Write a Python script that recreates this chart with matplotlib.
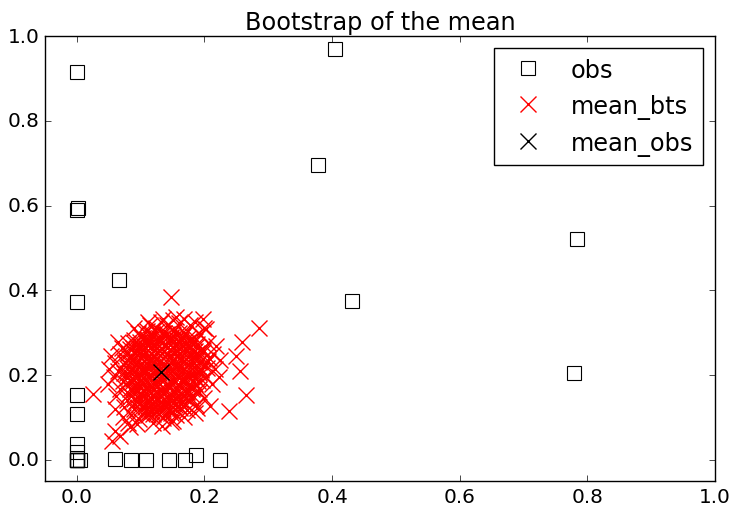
import numpy as np
import matplotlib
matplotlib.use("Agg")
import matplotlib.pyplot as plt

# observed sample (several points sit on top of each other at the origin)
obs_x = [0.0, 0.405, 0.378, 0.784, 0.780, 0.431, 0.002, 0.0, 0.0, 0.066,
         0.0, 0.0, 0.0, 0.0, 0.0, 0.005, 0.060, 0.085, 0.109, 0.144,
         0.170, 0.186, 0.225, 0.0, 0.0, 0.0, 0.0, 0.0, 0.0]
obs_y = [0.915, 0.970, 0.696, 0.521, 0.205, 0.375, 0.594, 0.590, 0.373, 0.425,
         0.153, 0.108, 0.038, 0.019, 0.0, 0.0, 0.003, 0.0, 0.0, 0.0,
         0.0, 0.012, 0.0, 0.0, 0.0, 0.0, 0.0, 0.0, 0.0]

# bootstrap means (dense core first, then the fringe)
bts_x = [
    0.106, 0.115, 0.124, 0.133, 0.142, 0.151, 0.160, 0.169,
    0.101, 0.110, 0.120, 0.129, 0.138, 0.147, 0.156, 0.165, 0.174, 0.183,
    0.090, 0.099, 0.108, 0.117, 0.126, 0.135, 0.144, 0.153, 0.162, 0.171, 0.180, 0.189,
    0.088, 0.097, 0.106, 0.115, 0.124, 0.133, 0.142, 0.151, 0.160, 0.169, 0.178, 0.187, 0.196,
    0.080, 0.089, 0.098, 0.107, 0.116, 0.125, 0.134, 0.143, 0.152, 0.161, 0.170, 0.179, 0.188, 0.197,
    0.081, 0.090, 0.099, 0.108, 0.117, 0.126, 0.135, 0.144, 0.153, 0.162, 0.171, 0.180, 0.189, 0.198, 0.207,
    0.075, 0.084, 0.093, 0.102, 0.111, 0.120, 0.129, 0.138, 0.147, 0.156, 0.165, 0.174, 0.183, 0.192, 0.201,
    0.078, 0.087, 0.096, 0.105, 0.114, 0.123, 0.132, 0.141, 0.150, 0.159, 0.168, 0.177, 0.186, 0.195, 0.204,
    0.074, 0.083, 0.092, 0.101, 0.110, 0.119, 0.128, 0.137, 0.146, 0.155, 0.164, 0.173, 0.182, 0.191,
    0.079, 0.088, 0.097, 0.106, 0.115, 0.124, 0.133, 0.142, 0.151, 0.160, 0.169, 0.178, 0.187, 0.196,
    0.077, 0.086, 0.095, 0.104, 0.113, 0.122, 0.131, 0.140, 0.149, 0.158, 0.167, 0.176, 0.185,
    0.083, 0.092, 0.101, 0.110, 0.119, 0.128, 0.137, 0.146, 0.155, 0.164, 0.173, 0.182, 0.191,
    0.082, 0.091, 0.100, 0.109, 0.118, 0.127, 0.136, 0.145, 0.154, 0.163, 0.172, 0.181,
    0.090, 0.099, 0.108, 0.117, 0.126, 0.135, 0.144, 0.153, 0.162, 0.171, 0.180,
    0.090, 0.099, 0.108, 0.117, 0.126, 0.135, 0.144, 0.153, 0.162, 0.170,
    0.099, 0.108, 0.117, 0.126, 0.135, 0.144, 0.153, 0.162,
    0.102, 0.111, 0.120, 0.129, 0.138, 0.147,
    # second, shifted pass over the middle of the cloud
    0.112, 0.128, 0.146, 0.161, 0.176, 0.104, 0.121, 0.137, 0.153, 0.169,
    0.185, 0.096, 0.113, 0.130, 0.149, 0.165, 0.181, 0.092, 0.108, 0.125,
    0.141, 0.158, 0.174, 0.190, 0.097, 0.116, 0.133, 0.150, 0.167, 0.183,
    0.103, 0.119, 0.136, 0.154, 0.171, 0.110, 0.127, 0.143, 0.160, 0.118,
    0.134, 0.151,
    # fringe
    0.085, 0.088, 0.079, 0.096, 0.102, 0.093, 0.120, 0.134, 0.150, 0.166,
    0.180, 0.190, 0.195, 0.188, 0.176, 0.163, 0.147, 0.130, 0.113, 0.099,
    0.084, 0.075, 0.072, 0.081, 0.106, 0.126, 0.145, 0.160, 0.176, 0.192,
    0.202, 0.205, 0.198, 0.185, 0.170, 0.152, 0.136, 0.118, 0.104, 0.090,
    0.067, 0.064, 0.068, 0.078, 0.090, 0.112, 0.135, 0.155, 0.172, 0.187,
    0.200, 0.212, 0.216, 0.213, 0.206, 0.193, 0.178, 0.160, 0.142, 0.124,
    0.110,
    0.058, 0.060, 0.062, 0.074, 0.085, 0.098, 0.120, 0.148, 0.168, 0.185,
    0.222, 0.225, 0.218, 0.200, 0.185, 0.168, 0.150, 0.132, 0.115, 0.095,
    0.080, 0.070,
    0.065, 0.090, 0.112, 0.135, 0.155, 0.050, 0.048, 0.053, 0.072, 0.060,
    0.080,
    # outliers
    0.286, 0.148, 0.259, 0.265, 0.239, 0.209, 0.188, 0.255, 0.250, 0.025,
    0.055, 0.067, 0.059, 0.083, 0.094, 0.134, 0.150, 0.197, 0.203,
]
bts_y = [
    0.301, 0.298, 0.302, 0.299, 0.297, 0.303, 0.300, 0.296,
    0.289, 0.286, 0.290, 0.287, 0.291, 0.288, 0.285, 0.289, 0.287, 0.290,
    0.276, 0.279, 0.275, 0.277, 0.274, 0.278, 0.276, 0.273, 0.277, 0.275, 0.278, 0.274,
    0.264, 0.262, 0.266, 0.263, 0.265, 0.261, 0.264, 0.267, 0.262, 0.265, 0.263, 0.266, 0.262,
    0.252, 0.255, 0.251, 0.253, 0.250, 0.254, 0.252, 0.249, 0.253, 0.251, 0.255, 0.250, 0.252, 0.254,
    0.240, 0.238, 0.242, 0.239, 0.241, 0.237, 0.240, 0.243, 0.238, 0.241, 0.239, 0.242, 0.240, 0.237, 0.241,
    0.228, 0.231, 0.227, 0.229, 0.226, 0.230, 0.228, 0.225, 0.229, 0.227, 0.231, 0.226, 0.228, 0.230, 0.227,
    0.216, 0.214, 0.218, 0.215, 0.217, 0.213, 0.216, 0.219, 0.214, 0.217, 0.215, 0.218, 0.216, 0.213, 0.217,
    0.204, 0.207, 0.203, 0.205, 0.202, 0.206, 0.204, 0.201, 0.205, 0.203, 0.207, 0.202, 0.204, 0.206,
    0.192, 0.190, 0.194, 0.191, 0.193, 0.189, 0.192, 0.195, 0.190, 0.193, 0.191, 0.194, 0.192, 0.189,
    0.180, 0.183, 0.179, 0.181, 0.178, 0.182, 0.180, 0.177, 0.181, 0.179, 0.183, 0.178, 0.180,
    0.168, 0.166, 0.170, 0.167, 0.169, 0.165, 0.168, 0.171, 0.166, 0.169, 0.167, 0.170, 0.168,
    0.156, 0.159, 0.155, 0.157, 0.154, 0.158, 0.156, 0.153, 0.157, 0.155, 0.159, 0.154,
    0.144, 0.142, 0.146, 0.143, 0.145, 0.141, 0.144, 0.147, 0.142, 0.145, 0.143,
    0.132, 0.135, 0.131, 0.133, 0.130, 0.134, 0.132, 0.129, 0.133, 0.131,
    0.120, 0.118, 0.122, 0.119, 0.121, 0.117, 0.120, 0.123,
    0.108, 0.111, 0.107, 0.109, 0.106, 0.110,
    # second, shifted pass over the middle of the cloud
    0.282, 0.280, 0.283, 0.279, 0.281, 0.258, 0.260, 0.257, 0.259, 0.261,
    0.256, 0.234, 0.236, 0.233, 0.235, 0.237, 0.232, 0.210, 0.212, 0.209,
    0.211, 0.213, 0.208, 0.210, 0.186, 0.188, 0.185, 0.187, 0.189, 0.184,
    0.162, 0.164, 0.161, 0.163, 0.160, 0.138, 0.140, 0.137, 0.139, 0.115,
    0.117, 0.114,
    # fringe
    0.240, 0.170, 0.205, 0.258, 0.150, 0.138, 0.132, 0.128, 0.135, 0.150,
    0.168, 0.185, 0.215, 0.245, 0.265, 0.283, 0.290, 0.285, 0.278, 0.270,
    0.262, 0.230, 0.185, 0.155, 0.125, 0.112, 0.118, 0.128, 0.140, 0.160,
    0.196, 0.232, 0.258, 0.280, 0.300, 0.305, 0.300, 0.296, 0.288, 0.282,
    0.250, 0.210, 0.168, 0.140, 0.120, 0.105, 0.098, 0.105, 0.118, 0.130,
    0.145, 0.178, 0.215, 0.250, 0.275, 0.298, 0.318, 0.322, 0.318, 0.312,
    0.305,
    0.195, 0.228, 0.150, 0.125, 0.105, 0.096, 0.088, 0.090, 0.100, 0.110,
    0.195, 0.235, 0.268, 0.310, 0.325, 0.333, 0.330, 0.325, 0.318, 0.300,
    0.275, 0.265,
    0.278, 0.310, 0.326, 0.333, 0.338, 0.215, 0.180, 0.245, 0.100, 0.120,
    0.088,
    # outliers
    0.311, 0.384, 0.278, 0.153, 0.115, 0.128, 0.122, 0.210, 0.245, 0.156,
    0.045, 0.057, 0.068, 0.078, 0.085, 0.080, 0.092, 0.333, 0.309,
]

mean_obs_x = np.mean(obs_x)
mean_obs_y = np.mean(obs_y)

plt.style.use('classic')
plt.rcParams['font.size'] = 14.4

fig = plt.figure(figsize=(7.32, 5.10), dpi=100, facecolor='white')
ax = fig.add_axes([0.0615, 0.0549, 0.915, 0.8725])

ax.plot(obs_x, obs_y, 's', mfc='none', mec='black', ms=10, mew=0.8, label='obs')
ax.plot(bts_x, bts_y, 'x', color='red', mec='red', ms=11, mew=1.0,
        label='mean_bts')
ax.plot([mean_obs_x], [mean_obs_y], 'x', color='black', mec='black', ms=11,
        mew=1.0, label='mean_obs')

ax.set_xlim(-0.05, 1.0)
ax.set_ylim(-0.05, 1.0)
ax.set_title('Bootstrap of the mean')
ax.legend(loc='upper right', numpoints=1)

fig.savefig('out.png', dpi=100, facecolor='white')
